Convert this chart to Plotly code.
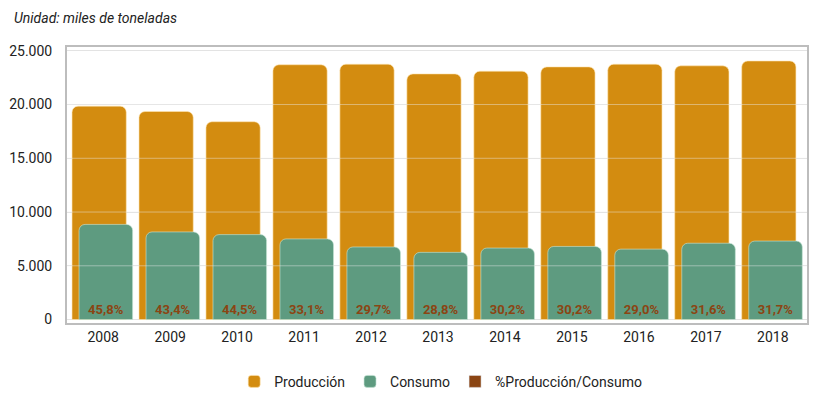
import plotly.graph_objects as go

years = ["2008", "2009", "2010", "2011", "2012", "2013", "2014", "2015", "2016", "2017", "2018"]
produccion = [19850, 19350, 18400, 23700, 23750, 22850, 23100, 23500, 23750, 23600, 24050]
consumo = [8850, 8150, 7900, 7500, 6750, 6250, 6650, 6800, 6550, 7100, 7300]
pct_labels = ["45,8%", "43,4%", "44,5%", "33,1%", "29,7%", "28,8%", "30,2%", "30,2%", "29,0%", "31,6%", "31,7%"]
y_ticks = [0, 5000, 10000, 15000, 20000, 25000]
y_ticktext = ["0", "5.000", "10.000", "15.000", "20.000", "25.000"]

FONT = "Roboto, Liberation Sans, sans-serif"
C_PROD = "#D38C10"
C_CONS = "#5E9B80"
C_PCT = "#8B4513"

xi = list(range(len(years)))

fig = go.Figure()
fig.add_trace(go.Bar(
    x=xi, y=produccion, name="Producción",
    marker=dict(color=C_PROD, cornerradius=6, line=dict(color="rgba(255,230,180,0.6)", width=1)),
    width=0.81, offset=-0.465, hoverinfo="y",
))
fig.add_trace(go.Bar(
    x=xi, y=consumo, name="Consumo",
    marker=dict(color=C_CONS, cornerradius=6, line=dict(color="rgba(200,230,215,0.6)", width=1)),
    width=0.80, offset=-0.36,
    text=pct_labels, textposition="inside", insidetextanchor="start",
    textangle=0, constraintext="none",
    textfont=dict(family=FONT, size=13, color=C_PCT, weight="bold"),
))
fig.add_trace(go.Bar(
    x=xi, y=[None] * len(years), name="%Producción/Consumo",
    marker=dict(color=C_PCT), showlegend=True,
))

# faint gridlines drawn over the bars, as in the reference
grid_shapes = [
    dict(type="line", xref="paper", x0=0, x1=1, yref="y", y0=v, y1=v, layer="above",
         line=dict(color="rgba(235,235,235,0.45)", width=1))
    for v in y_ticks[1:-1]
]

# the page body adds an 8px margin, so the figure is sized 8px smaller
fig.update_layout(
    width=813, height=387,
    barmode="overlay",
    plot_bgcolor="white", paper_bgcolor="white",
    margin=dict(l=59, r=14, t=39, b=72, autoexpand=False),
    font=dict(family=FONT, size=14, color="#222222"),
    showlegend=True,
    legend=dict(orientation="h", x=0.505, xanchor="center", y=-0.155, yanchor="top",
                font=dict(size=14, color="#222222"),
                traceorder="normal"),
    shapes=grid_shapes,
    annotations=[dict(text="<i>Unidad: miles de toneladas</i>", xref="paper", yref="paper",
                      x=-0.073, y=1.138, xanchor="left", yanchor="top", showarrow=False,
                      borderpad=0,
                      font=dict(size=14, color="#222222"))],
)
fig.update_xaxes(
    tickmode="array", tickvals=xi, ticktext=years, range=[-0.54, 10.51],
    showline=True, linecolor="#BDBDBD", linewidth=2, mirror=True, automargin=False,
    showgrid=False, ticks="", tickfont=dict(size=14),
)
fig.update_yaxes(
    tickmode="array", tickvals=y_ticks, ticktext=y_ticktext, range=[-320, 25350],
    showline=True, linecolor="#BDBDBD", linewidth=2, mirror=True, automargin=False,
    showgrid=True, gridcolor="#E3E3E3", gridwidth=1, zeroline=False,
    ticks="", ticklabelstandoff=10, tickfont=dict(size=14),
)

fig.write_html("out.html")
